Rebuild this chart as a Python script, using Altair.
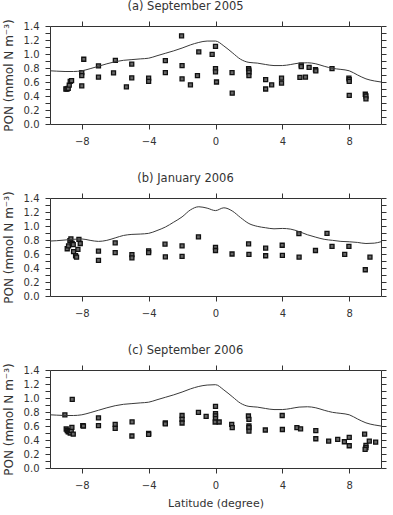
import altair as alt
import pandas as pd

# ---------------- data ----------------
# (a) September 2005 observations
lat_a = [-8.95, -8.88, -8.81, -8.75, -8.69, -8.61, -8.0, -8.0, -8.0, -7.88, -7.0, -7.0,
         -6.1, -5.99, -5.33, -5.01, -5.01, -4.0, -4.0, -3.0, -3.0, -2.03, -2.0, -2.0,
         -1.5, -1.08, -1.0, -0.2, 0.0, 0.0, 0.0, 0.06, 0.99, 1.0, 1.98, 2.0, 2.0, 2.0,
         3.0, 3.0, 3.36, 3.95, 3.95, 5.05, 5.13, 5.13, 5.38, 5.6, 5.98, 6.0, 6.97,
         7.98, 8.0, 8.0, 8.0, 8.96, 9.0, 9.0]
pon_a = [0.50, 0.50, 0.51, 0.555, 0.61, 0.62, 0.735, 0.69, 0.545, 0.925, 0.83, 0.67,
         0.73, 0.91, 0.53, 0.855, 0.66, 0.655, 0.61, 0.905, 0.735, 1.26, 0.835, 0.645,
         0.56, 0.69, 1.03, 0.995, 1.11, 0.79, 0.745, 0.60, 0.735, 0.44, 0.79, 0.77, 0.74, 0.69,
         0.635, 0.50, 0.56, 0.655, 0.585, 0.665, 0.84, 0.82, 0.67, 0.81, 0.775, 0.76, 0.79,
         0.655, 0.635, 0.61, 0.41, 0.425, 0.40, 0.36]

# (b) January 2006 observations
lat_b = [-8.87, -8.79, -8.71, -8.65, -8.57, -8.51, -8.49, -8.37, -8.31, -8.23, -8.17, -8.09,
         -7.0, -7.0, -6.0, -6.0, -5.0, -5.0, -4.0, -4.0, -3.02, -3.0, -2.0, -2.0, -1.02,
         0.0, 0.0, 0.99, 1.98, 2.0, 3.0, 3.0, 3.99, 4.0, 4.99, 5.0, 5.98, 6.67, 6.97,
         7.73, 7.98, 8.96, 9.24]
pon_b = [0.675, 0.715, 0.79, 0.815, 0.75, 0.735, 0.635, 0.575, 0.555, 0.665, 0.81, 0.75,
         0.64, 0.51, 0.76, 0.62, 0.59, 0.545, 0.645, 0.62, 0.74, 0.56, 0.715, 0.565, 0.845,
         0.695, 0.65, 0.60, 0.745, 0.595, 0.685, 0.575, 0.725, 0.58, 0.89, 0.555, 0.65, 0.895, 0.71,
         0.595, 0.71, 0.375, 0.555]

# (c) September 2006 observations
lat_c = [-9.01, -8.57, -8.93, -8.87, -8.81, -8.75, -8.69, -8.63, -8.59, -8.51, -7.94, -7.9,
         -7.0, -7.0, -6.0, -6.0, -4.99, -5.0, -4.0, -4.0, -3.0, -3.0, -2.0, -2.0, -2.0,
         -1.02, -0.56, 0.0, 0.0, 0.0, 0.0, -0.02, 0.22, 0.97, 1.0, 1.97, 2.0, 2.0, 2.0, 2.0,
         2.98, 3.99, 4.0, 4.87, 5.09, 6.0, 6.0, 6.77, 7.31, 7.71, 8.0, 8.0, 8.92, 9.0, 9.0,
         8.95, 9.2, 9.58]
pon_c = [0.76, 0.98, 0.557, 0.533, 0.515, 0.52, 0.50, 0.533, 0.58, 0.485, 0.605, 0.60,
         0.715, 0.605, 0.623, 0.565, 0.66, 0.457, 0.495, 0.48, 0.643, 0.63, 0.75, 0.695, 0.643,
         0.795, 0.737, 0.88, 0.776, 0.745, 0.704, 0.657, 0.657, 0.623, 0.576, 0.743, 0.695, 0.60, 0.576, 0.528,
         0.543, 0.75, 0.55, 0.576, 0.56, 0.533, 0.418, 0.385, 0.41, 0.375, 0.437, 0.318, 0.485, 0.323, 0.29,
         0.266, 0.385, 0.37]

# model curves
model_lat = [-9.9, -9.5, -9.0, -8.5, -8.0, -7.5, -7.0, -6.5, -6.0, -5.5, -5.0, -4.5, -4.0,
             -3.5, -3.0, -2.5, -2.0, -1.5, -1.0, -0.5, 0.0, 0.5, 1.0, 1.5, 2.0, 2.5, 3.0,
             3.5, 4.0, 4.5, 5.0, 5.5, 6.0, 6.5, 7.0, 7.5, 8.0, 8.5, 9.0, 9.5, 9.9]
model_a = [0.76, 0.755, 0.75, 0.75, 0.76, 0.79, 0.825, 0.86, 0.89, 0.91, 0.92, 0.93, 0.94,
           0.975, 1.01, 1.045, 1.085, 1.13, 1.165, 1.185, 1.185, 1.115, 1.02, 0.925, 0.88, 0.87, 0.85,
           0.835, 0.835, 0.85, 0.87, 0.875, 0.86, 0.825, 0.795, 0.78, 0.76, 0.70, 0.645, 0.615, 0.60]
model_b = [0.785, 0.79, 0.80, 0.81, 0.815, 0.795, 0.78, 0.795, 0.83, 0.865, 0.88, 0.885, 0.895,
           0.935, 0.985, 1.055, 1.13, 1.23, 1.275, 1.255, 1.22, 1.26, 1.215, 1.12, 1.035, 0.995, 0.975,
           0.96, 0.965, 0.955, 0.92, 0.875, 0.84, 0.81, 0.795, 0.78, 0.775, 0.765, 0.75, 0.755, 0.775]
model_c = [0.76, 0.755, 0.75, 0.75, 0.76, 0.79, 0.825, 0.86, 0.89, 0.91, 0.92, 0.93, 0.94,
           0.975, 1.01, 1.045, 1.085, 1.13, 1.165, 1.185, 1.19, 1.115, 1.02, 0.925, 0.88, 0.87, 0.85,
           0.835, 0.835, 0.85, 0.87, 0.875, 0.86, 0.825, 0.795, 0.78, 0.76, 0.70, 0.645, 0.615, 0.60]

titles = ["(a) September 2005", "(b) January 2006", "(c) September 2006"]
x_ticks = [-8, -4, 0, 4, 8]
y_ticks = [round(i * 0.1, 1) for i in range(15)]
X_DOMAIN = [-9.9, 9.9]
Y_DOMAIN = [0, 1.4]

FONT = "DejaVu Sans"
INK = "#333333"


def panel(title, lat, pon, mval, xtitle=None):
    pts = pd.DataFrame({"lat": lat, "pon": pon})
    mdl = pd.DataFrame({"mlat": model_lat, "mpon": mval})

    line = alt.Chart(mdl).mark_line(color="#3a3a3a", strokeWidth=1, interpolate="monotone").encode(
        x=alt.X("mlat:Q", scale=alt.Scale(domain=X_DOMAIN, nice=False, zero=False),
                axis=alt.Axis(orient="top", values=x_ticks, labels=False, title=None)),
        y=alt.Y("mpon:Q", scale=alt.Scale(domain=Y_DOMAIN, nice=False),
                axis=alt.Axis(orient="right", values=y_ticks, labels=False, title=None)),
    )
    xaxis = dict(orient="bottom", values=x_ticks, labelPadding=7)
    if xtitle:
        xaxis["title"] = xtitle
        xaxis["titlePadding"] = 7
    else:
        xaxis["title"] = None
    points = alt.Chart(pts).mark_point(
        shape="square", filled=True, size=16, fill="#666666",
        stroke="#111111", strokeWidth=1.3, opacity=1,
    ).encode(
        x=alt.X("lat:Q", scale=alt.Scale(domain=X_DOMAIN, nice=False, zero=False),
                axis=alt.Axis(**xaxis)),
        y=alt.Y("pon:Q", scale=alt.Scale(domain=Y_DOMAIN, nice=False),
                axis=alt.Axis(orient="left", values=y_ticks, labelOverlap=False,
                              labelExpr="round(datum.value*10) % 2 == 0 ? format(datum.value, '.1f') : ''",
                              title="PON (mmol N m\u207b\u00b3)", titleFontSize=12,
                              labelPadding=6, titlePadding=8)),
    )
    return alt.layer(points, line).resolve_scale(x="independent", y="independent").properties(
        width=331, height=98,
        title=alt.TitleParams(title, fontSize=11.5, font=FONT, fontWeight="normal", color=INK,
                              anchor="middle", frame="group", dx=-30, offset=6),
    )


chart = alt.vconcat(
    panel(titles[0], lat_a, pon_a, model_a),
    panel(titles[1], lat_b, pon_b, model_b),
    panel(titles[2], lat_c, pon_c, model_c, xtitle="Latitude (degree)"),
    spacing=27,
).properties(
    padding={"left": 2, "top": 1, "right": 4, "bottom": 2},
    background="white",
).configure_view(stroke=None).configure_axis(
    grid=False, domainColor=INK, tickColor=INK, labelColor=INK, titleColor=INK,
    labelFont=FONT, titleFont=FONT, labelFontSize=10, titleFontSize=11,
    titleFontWeight="normal", tickSize=5, domainWidth=1, tickWidth=1,
)

chart.save("out.html", embed_options={"renderer": "svg", "actions": False})
